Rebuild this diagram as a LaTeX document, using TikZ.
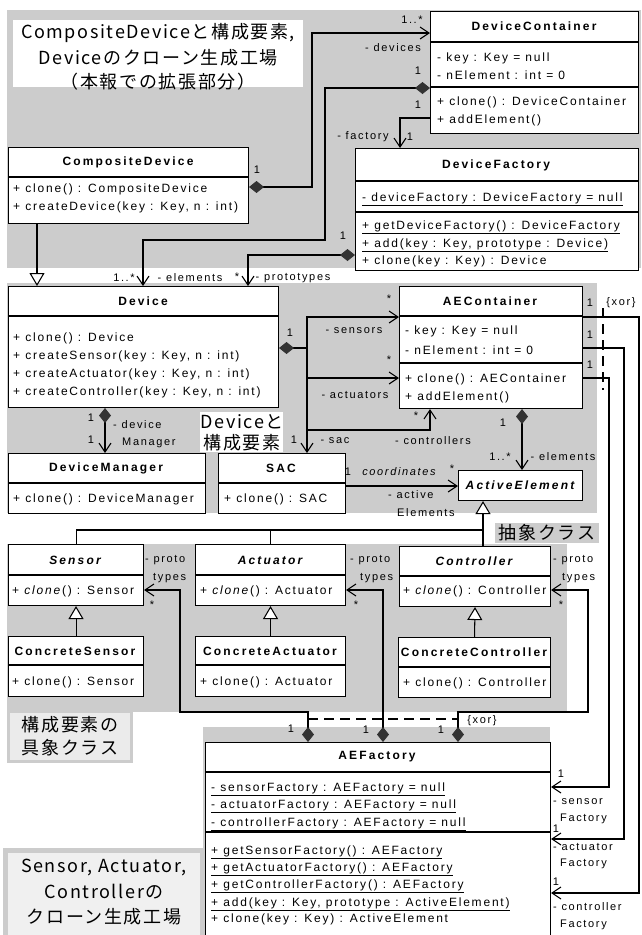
\documentclass[tikz,border=0pt]{standalone}
\usepackage{fontspec}
\setmainfont{Liberation Sans}[LetterSpace=15]
\newfontfamily\tf{Liberation Sans}[LetterSpace=18]
\newfontfamily\jp{Noto Sans CJK JP}[LetterSpace=9]
\usetikzlibrary{arrows.meta}
\definecolor{shd}{gray}{0.80}
\begin{document}
\begin{tikzpicture}[x=1pt,y=-1pt,
  font=\fontsize{12}{14}\selectfont,
  ln/.style={line width=1.05pt},
  box/.style={draw, line width=1.05pt, fill=white, inner sep=0pt, anchor=north west},
  ttl/.style={inner sep=0pt, font=\tf\fontsize{12}{14}\selectfont\bfseries},
  ttli/.style={inner sep=0pt, font=\tf\fontsize{12}{14}\selectfont\bfseries\itshape},
  row/.style={inner sep=0pt, anchor=base west},
  ml/.style={inner sep=0pt, font=\fontsize{11}{13}\selectfont},
  mlw/.style={ml, anchor=west},
  jt/.style={inner sep=0pt, font=\jp\fontsize{18}{22}\selectfont},
  nav/.style={ln, -{Straight Barb[length=9pt,width=12pt]}},
  comp/.style={ln, {Diamond[length=15pt,width=12pt,color=black!80]}-{Straight Barb[length=9pt,width=12pt]}},
  gen/.style={ln, -{Triangle[open,length=13pt,width=15pt,fill=white]}},
  xor/.style={ln, dash pattern=on 10pt off 6pt},
]
\useasboundingbox (0,0) rectangle (641,935);
% ---------- shaded regions
\fill[shd] (7,10) rectangle (641,268);
\fill[shd] (7,283) rectangle (597,513);
\fill[shd] (7,544) rectangle (567,712);
\fill[shd] (7,710) rectangle (133,763);
\fill[shd] (203,727) rectangle (550,935);
\fill[shd] (3,848) rectangle (205,935);
% ---------- labels
\fill[white] (13,20) rectangle (303,87);
\node[jt] (labA1) at (158,33) {CompositeDeviceと構成要素,};
\node[jt] (labA2) at (158,58) {Deviceのクローン生成工場};
\node[jt] (labA3) at (158,82) {（本報での拡張部分）};
\fill[white] (200,412) rectangle (283,452);
\node[jt] (labB1) at (242,422) {Deviceと};
\node[jt] (labB2) at (242,443) {構成要素};
\node[jt, fill=shd, inner xsep=4pt, inner ysep=2pt] (labC) at (547,533) {抽象クラス};
\fill[black!8] (10,713) rectangle (130,760);
\node[jt] (labD1) at (70,725) {構成要素の};
\node[jt] (labD2) at (70,748) {具象クラス};
\fill[black!6] (8,853) rectangle (200,935);
\node[jt] (labE1) at (104,867) {Sensor, Actuator,};
\node[jt] (labE2) at (104,892) {Controllerの};
\node[jt] (labE3) at (104,917) {クローン生成工場};
% ---------- classes
% CompositeDevice
\node[box, minimum width=240pt, minimum height=76pt] (cd) at (8,147) {};
\draw[ln] (cd.west |- 0,177) -- (cd.east |- 0,177);
\node[ttl] (cdT) at (128,162) {CompositeDevice};
\node[row] (cd1) at (13,192) {+ clone() : CompositeDevice};
\node[row] (cd2) at (13,210) {+ createDevice(key : Key, n : int)};
% DeviceContainer
\node[box, minimum width=208pt, minimum height=122pt] (dc) at (430,11) {};
\draw[ln] (dc.west |- 0,42) -- (dc.east |- 0,42);
\draw[ln] (dc.west |- 0,87) -- (dc.east |- 0,87);
\node[ttl] (dcT) at (534,26) {DeviceContainer};
\node[row] (dc1) at (437,61) {- key : Key = null};
\node[row] (dc2) at (437,79) {- nElement : int = 0};
\node[row] (dc3) at (437,105) {+ clone() : DeviceContainer};
\node[row] (dc4) at (437,123) {+ addElement()};
% DeviceFactory
\node[box, minimum width=283pt, minimum height=122pt] (df) at (355,148) {};
\draw[ln] (df.west |- 0,181) -- (df.east |- 0,181);
\draw[ln] (df.west |- 0,212) -- (df.east |- 0,212);
\node[ttl] (dfT) at (496,165) {DeviceFactory};
\node[row] (df1) at (362,201) {\underline{- deviceFactory : DeviceFactory = null}};
\node[row] (df2) at (362,229) {\underline{+ getDeviceFactory() : DeviceFactory}};
\node[row] (df3) at (362,247) {\underline{+ add(key : Key, prototype : Device)}};
\node[row] (df4) at (362,264) {+ clone(key : Key) : Device};
% Device
\node[box, minimum width=270pt, minimum height=121pt] (dev) at (8,286) {};
\draw[ln] (dev.west |- 0,316) -- (dev.east |- 0,316);
\node[ttl] (devT) at (143,301) {Device};
\node[row] (dev1) at (13,341) {+ clone() : Device};
\node[row] (dev2) at (13,359) {+ createSensor(key : Key, n : int)};
\node[row] (dev3) at (13,377) {+ createActuator(key : Key, n : int)};
\node[row] (dev4) at (13,395) {+ createController(key : Key, n : int)};
% AEContainer
\node[box, minimum width=183pt, minimum height=122pt] (aec) at (399,286) {};
\draw[ln] (aec.west |- 0,316) -- (aec.east |- 0,316);
\draw[ln] (aec.west |- 0,363) -- (aec.east |- 0,363);
\node[ttl] (aecT) at (490,301) {AEContainer};
\node[row] (aec1) at (405,334) {- key : Key = null};
\node[row] (aec2) at (405,354) {- nElement : int = 0};
\node[row] (aec3) at (405,382) {+ clone() : AEContainer};
\node[row] (aec4) at (405,400) {+ addElement()};
% DeviceManager
\node[box, minimum width=197pt, minimum height=60pt] (dm) at (8,453) {};
\draw[ln] (dm.west |- 0,483) -- (dm.east |- 0,483);
\node[ttl] (dmT) at (106,468) {DeviceManager};
\node[row] (dm1) at (13,502) {+ clone() : DeviceManager};
% SAC
\node[box, minimum width=127pt, minimum height=60pt] (sac) at (218,453) {};
\draw[ln] (sac.west |- 0,483) -- (sac.east |- 0,483);
\node[ttl] (sacT) at (281,468) {SAC};
\node[row] (sac1) at (224,502) {+ clone() : SAC};
% ActiveElement
\node[box, minimum width=124pt, minimum height=30pt] (ae) at (458,470) {};
\node[ttli] (aeT) at (520,485) {ActiveElement};
% Sensor
\node[box, minimum width=135pt, minimum height=61pt] (sen) at (8,544) {};
\draw[ln] (sen.west |- 0,575) -- (sen.east |- 0,575);
\node[ttli] (senT) at (75,560) {Sensor};
\node[row] (sen1) at (12,594) {+ \textit{clone}() : Sensor};
% Actuator
\node[box, minimum width=150pt, minimum height=61pt] (act) at (195,544) {};
\draw[ln] (act.west |- 0,575) -- (act.east |- 0,575);
\node[ttli] (actT) at (270,560) {Actuator};
\node[row] (act1) at (200,594) {+ \textit{clone}() : Actuator};
% Controller
\node[box, minimum width=151pt, minimum height=60pt] (ctl) at (399,546) {};
\draw[ln] (ctl.west |- 0,576) -- (ctl.east |- 0,576);
\node[ttli] (ctlT) at (474,561) {Controller};
\node[row] (ctl1) at (403,594) {+ \textit{clone}() : Controller};
% Concrete classes
\node[box, minimum width=135pt, minimum height=60pt] (cs) at (8,636) {};
\draw[ln] (cs.west |- 0,665) -- (cs.east |- 0,665);
\node[ttl] (csT) at (75,651) {ConcreteSensor};
\node[row] (cs1) at (12,685) {+ clone() : Sensor};
\node[box, minimum width=150pt, minimum height=60pt] (ca) at (195,636) {};
\draw[ln] (ca.west |- 0,665) -- (ca.east |- 0,665);
\node[ttl] (caT) at (270,651) {ConcreteActuator};
\node[row] (ca1) at (200,685) {+ clone() : Actuator};
\node[box, minimum width=152pt, minimum height=60pt] (cc) at (398,637) {};
\draw[ln] (cc.west |- 0,667) -- (cc.east |- 0,667);
\node[ttl] (ccT) at (474,652) {ConcreteController};
\node[row] (cc1) at (403,686) {+ clone() : Controller};
% AEFactory
\node[box, minimum width=345pt, minimum height=200pt] (aef) at (205,742) {};
\draw[ln] (aef.west |- 0,772) -- (aef.east |- 0,772);
\draw[ln] (aef.west |- 0,832) -- (aef.east |- 0,832);
\node[ttl] (aefT) at (377,757) {AEFactory};
\node[row] (aef1) at (211,791) {\underline{- sensorFactory : AEFactory = null}};
\node[row] (aef2) at (211,808) {\underline{- actuatorFactory : AEFactory = null}};
\node[row] (aef3) at (211,826) {\underline{- controllerFactory : AEFactory = null}};
\node[row] (aef4) at (211,854) {\underline{+ getSensorFactory() : AEFactory}};
\node[row] (aef5) at (211,871) {\underline{+ getActuatorFactory() : AEFactory}};
\node[row] (aef6) at (211,888) {\underline{+ getControllerFactory() : AEFactory}};
\node[row] (aef7) at (211,906) {\underline{+ add(key : Key, prototype : ActiveElement)}};
\node[row] (aef8) at (211,922) {+ clone(key : Key) : ActiveElement};
% ---------- connectors
% CompositeDevice - DeviceContainer
\draw[comp] (cd.east |- 0,187) -- (312,187) -- (312,33) -- (dc.west |- 0,33);
\node[ml] (m1) at (257,170) {1};
\node[ml] (m2) at (412,20) {1..*};
\node[ml] (m3) at (393,48) {- devices};
% DeviceContainer - Device (elements)
\draw[comp] (dc.west |- 0,88) -- (325,88) -- (325,240) -- (143,240) -- (dev.north -| 143,0);
\node[ml] (m4) at (418,71) {1};
\node[ml] (m5) at (124,278) {1..*};
\node[ml] (m6) at (190,278) {- elements};
% DeviceContainer - DeviceFactory
\draw[nav] (dc.west |- 0,118) -- (400,118) -- (df.north -| 400,0);
\node[ml] (m7) at (418,105) {1};
\node[ml] (m8) at (363,137) {- factory};
\node[ml] (m9) at (410,137) {1};
% DeviceFactory - Device (prototypes)
\draw[comp] (df.west |- 0,255) -- (248,255) -- (dev.north -| 248,0);
\node[ml] (m10) at (343,236) {1};
\node[ml] (m11) at (237,277) {*};
\node[ml] (m12) at (293,278) {- prototypes};
% CompositeDevice generalization
\draw[gen] (cd.south -| 37,0) -- (dev.north -| 37,0);
% Device - AEContainer / SAC
\coordinate (j1) at (307,348);
\coordinate (j2) at (307,378);
\coordinate (j3) at (307,430);
\draw[comp] (dev.east |- j1) -- (j1) -- (307,317) -- (aec.west |- 0,317);
\draw[nav] (j1) -- (j2) -- (aec.west |- j2);
\draw[nav] (j2) -- (sac.north -| j2);
\draw[nav] (j3) -- (430,430) -- (aec.south -| 430,0);
\node[ml] (m13) at (290,333) {1};
\node[ml] (m14) at (389,299) {*};
\node[ml] (m15) at (354,331) {- sensors};
\node[ml] (m16) at (389,360) {*};
\node[ml] (m17) at (355,395) {- actuators};
\node[ml] (m18) at (416,416) {*};
\node[ml] (m19) at (433,441) {- controllers};
\node[ml] (m20) at (294,440) {1};
\node[ml] (m21) at (335,441) {- sac};
% Device - DeviceManager
\draw[comp] (dev.south -| 105,0) -- (dm.north -| 105,0);
\node[ml] (m22) at (91,418) {1};
\node[ml] (m23) at (91,440) {1};
\node[mlw] (m24) at (113,425) {- device};
\node[mlw] (m25) at (122,443) {Manager};
% AEContainer - ActiveElement
\draw[comp] (aec.south -| 522,0) -- (ae.north -| 522,0);
\node[ml] (m26) at (503,423) {1};
\node[ml] (m27) at (500,457) {1..*};
\node[ml] (m28) at (563,457) {- elements};
% SAC - ActiveElement
\draw[nav] (sac.east |- 0,486) -- (ae.west |- 0,486);
\node[ml] (m29) at (348,472) {1};
\node[ml, font=\fontsize{11}{13}\selectfont\itshape] (m30) at (399,472) {coordinates};
\node[ml] (m31) at (452,469) {*};
\node[mlw] (m32) at (388,495) {- active};
\node[mlw] (m33) at (397,513) {Elements};
% generalizations to ActiveElement
\coordinate (g1) at (483,530);
\draw[ln] (sen.north) -- (sen.north |- g1) -- (g1);
\draw[ln] (act.north) -- (act.north |- g1);
\draw[gen] (ctl.north -| g1) -- (ae.south -| g1);
\draw[gen] (cs.north) -- (sen.south);
\draw[gen] (ca.north) -- (act.south);
\draw[gen] (cc.north) -- (ctl.south);
% AEFactory prototypes
\draw[comp] (aef.north -| 308,0) -- (308,712) -- (180,712) -- (180,590) -- (sen.east |- 0,590);
\draw[comp] (aef.north -| 383,0) -- (383,590) -- (act.east |- 0,590);
\draw[comp] (aef.north -| 458,0) -- (458,712) -- (588,712) -- (588,590) -- (ctl.east |- 0,590);
\coordinate (x1) at (308,719);
\coordinate (x2) at (458,719);
\draw[xor] (x1) -- (x2);
\node[ml] (m34) at (482,721) {\{xor\}};
\node[ml] (m35) at (291,729) {1};
\node[ml] (m36) at (366,730) {1};
\node[ml] (m37) at (441,730) {1};
\node[mlw] (m38) at (145,560) {- proto};
\node[mlw] (m39) at (153,578) {types};
\node[ml] (m40) at (152,605) {*};
\node[mlw] (m41) at (350,560) {- proto};
\node[mlw] (m42) at (360,578) {types};
\node[ml] (m43) at (356,605) {*};
\node[mlw] (m44) at (553,560) {- proto};
\node[mlw] (m45) at (562,578) {types};
\node[ml] (m46) at (561,605) {*};
% AEContainer - AEFactory
\draw[nav] (aec.east |- 0,378) -- (609,378) -- (609,787) -- (aef.east |- 0,787);
\draw[nav] (aec.east |- 0,348) -- (624,348) -- (624,839) -- (aef.east |- 0,839);
\draw[nav] (aec.east |- 0,317) -- (639,317) -- (639,893) -- (aef.east |- 0,893);
\coordinate (x3) at (603,308);
\coordinate (x4) at (603,390);
\draw[xor] (x3) -- (x4);
\node[ml] (m47) at (590,303) {1};
\node[ml] (m48) at (621,303) {\{xor\}};
\node[ml] (m49) at (590,335) {1};
\node[ml] (m50) at (590,365) {1};
\node[ml] (m51) at (561,774) {1};
\node[mlw] (m52) at (553,802) {- sensor};
\node[mlw] (m53) at (560,819) {Factory};
\node[ml] (m54) at (556,829) {1};
\node[mlw] (m55) at (553,847) {- actuator};
\node[mlw] (m56) at (560,864) {Factory};
\node[ml] (m57) at (556,882) {1};
\node[mlw] (m58) at (553,907) {- controller};
\node[mlw] (m59) at (560,925) {Factory};
\end{tikzpicture}
\end{document}
